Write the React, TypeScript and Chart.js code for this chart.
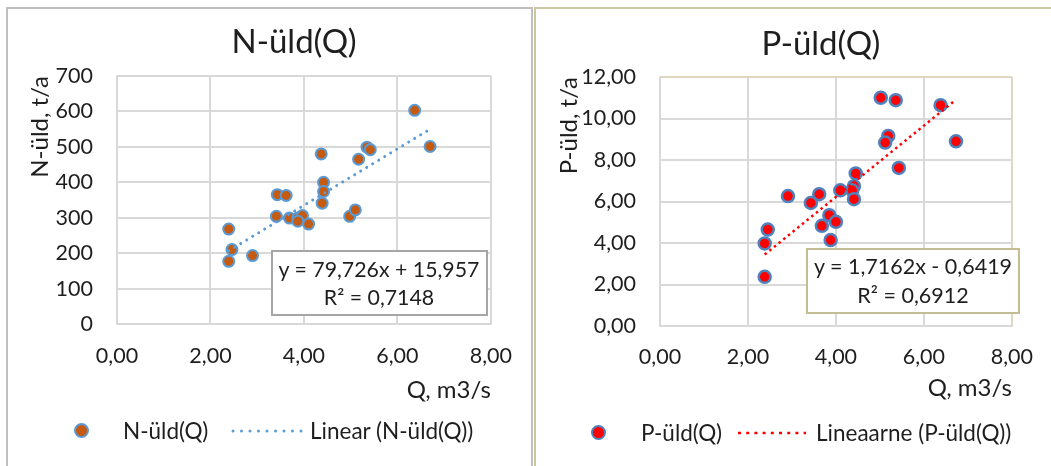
import React, { useEffect, useRef } from "react";
import { Chart, registerables } from "chart.js";

Chart.register(...registerables);

// ---------- data ----------
const qN = [2.39, 2.46, 2.39, 2.9, 3.43, 3.62, 3.41, 3.69, 3.87, 3.97, 3.87, 4.1, 4.37, 4.42, 4.42, 4.39, 4.98, 5.1, 5.17, 5.35, 5.42, 6.37, 6.7];
const nValues = [268, 210, 177, 193, 365, 363, 304, 299, 299, 306, 290, 282, 480, 400, 374, 341, 304, 322, 465, 499, 492, 603, 501];

const qP = [5.02, 5.36, 6.38, 6.73, 5.19, 5.12, 5.43, 4.45, 4.41, 4.37, 4.41, 4.1, 2.91, 3.62, 3.43, 3.85, 4.0, 3.68, 3.88, 2.45, 2.38, 2.38];
const pValues = [11.0, 10.88, 10.64, 8.9, 9.16, 8.84, 7.62, 7.35, 6.74, 6.54, 6.11, 6.54, 6.26, 6.35, 5.93, 5.34, 5.02, 4.83, 4.14, 4.65, 3.98, 2.37];

const qTicks = [0, 2, 4, 6, 8];
const nTicks = [0, 100, 200, 300, 400, 500, 600, 700];
const pTicks = [0, 2, 4, 6, 8, 10, 12];

const nTrend = { slope: 79.726, intercept: 15.957 };
const pTrend = { slope: 1.7162, intercept: -0.6419 };

const nEquation = ["y = 79,726x + 15,957", "R² = 0,7148"];
const pEquation = ["y = 1,7162x - 0,6419", "R² = 0,6912"];

const FONT = "Lato, 'Open Sans', sans-serif";
const TEXT = "#1e1e1e";
const GRID = "#d9d9d9";
const TAN = "#ddd8bf";
const TICK_SIZE = 21.5;
const AXIS_TITLE_SIZE = 24;

const comma2 = (v: number) => v.toFixed(2).replace(".", ",");

type PanelProps = {
  left: number;
  top: number;
  width: number;
  height: number;
  xs: number[];
  ys: number[];
  yTicks: number[];
  yMax: number;
  yFormat: (v: number) => string;
  yTitle: string;
  trend: { slope: number; intercept: number };
  label: string;
  trendLabel: string;
  pointFill: string;
  pointBorder: string;
  pointRadius: number;
  pointBorderWidth: number;
  trendColor: string;
  trendDash: number[];
  trendWidth: number;
  trendCap: "round" | "butt";
  yAxisWidth: number;
  xAxisHeight: number;
  pad: { left: number; right: number; top: number; bottom: number };
  yTickPad: number;
  xTickPad: number;
  yTitlePad: number;
  edgeColor: string;
};

function ScatterPanel(p: PanelProps) {
  const ref = useRef<HTMLCanvasElement | null>(null);
  useEffect(() => {
    if (!ref.current) return;
    const points = p.xs.map((x, i) => ({ x, y: p.ys[i] }));
    const xMin = Math.min(...p.xs);
    const xMax = Math.max(...p.xs);
    const trendPts = [
      { x: xMin, y: p.trend.slope * xMin + p.trend.intercept },
      { x: xMax, y: p.trend.slope * xMax + p.trend.intercept },
    ];
    const lastX = qTicks.length - 1;
    const lastY = p.yTicks.length - 1;
    const chart = new Chart(ref.current, {
      type: "scatter",
      data: {
        datasets: [
          {
            type: "line",
            label: p.trendLabel,
            data: trendPts,
            borderColor: p.trendColor,
            borderWidth: p.trendWidth,
            borderDash: p.trendDash,
            borderCapStyle: p.trendCap,
            pointRadius: 0,
            fill: false,
            showLine: true,
          } as any,
          {
            label: p.label,
            data: points,
            backgroundColor: p.pointFill,
            borderColor: p.pointBorder,
            borderWidth: p.pointBorderWidth,
            pointRadius: p.pointRadius,
            pointHoverRadius: p.pointRadius,
          },
        ],
      },
      options: {
        animation: false,
        responsive: false,
        events: [],
        layout: { padding: p.pad },
        plugins: {
          legend: { display: false },
          title: { display: false },
          tooltip: { enabled: false },
        },
        scales: {
          x: {
            type: "linear",
            min: 0,
            max: 8,
            afterBuildTicks: (s: any) => {
              s.ticks = qTicks.map((v) => ({ value: v }));
            },
            afterFit: (s: any) => {
              s.height = p.xAxisHeight;
            },
            ticks: {
              padding: p.xTickPad,
              color: TEXT,
              font: { family: FONT, size: TICK_SIZE },
              callback: (v: any) => comma2(Number(v)),
            },
            grid: {
              color: (c: any) => (c.index === lastX ? p.edgeColor : GRID),
              lineWidth: 2,
              drawTicks: false,
              tickLength: 0,
            },
            border: { color: GRID, width: 2 },
            title: {
              display: true,
              text: "Q, m3/s",
              align: "end",
              color: TEXT,
              font: { family: FONT, size: AXIS_TITLE_SIZE },
              padding: { top: 0, bottom: 0 },
            },
          },
          y: {
            type: "linear",
            min: 0,
            max: p.yMax,
            afterBuildTicks: (s: any) => {
              s.ticks = p.yTicks.map((v) => ({ value: v }));
            },
            afterFit: (s: any) => {
              s.width = p.yAxisWidth;
            },
            ticks: {
              padding: p.yTickPad,
              color: TEXT,
              font: { family: FONT, size: TICK_SIZE },
              callback: (v: any) => p.yFormat(Number(v)),
            },
            grid: {
              color: (c: any) => (c.index === lastY ? p.edgeColor : GRID),
              lineWidth: 2,
              drawTicks: false,
              tickLength: 0,
            },
            border: { color: GRID, width: 2 },
            title: {
              display: true,
              text: p.yTitle,
              align: "end",
              color: TEXT,
              font: { family: FONT, size: AXIS_TITLE_SIZE },
              padding: { top: p.yTitlePad, bottom: 0 },
            },
          },
        },
      },
    });
    return () => chart.destroy();
  }, []);
  return (
    <canvas
      ref={ref}
      width={p.width}
      height={p.height}
      style={{ position: "absolute", left: p.left, top: p.top, width: p.width, height: p.height }}
    />
  );
}

// text helper: positions a line of text by its cap-centre
function Txt(props: { x: number; cy: number; size: number; text: string; align?: "left" | "center"; color?: string }) {
  const lh = props.size * 1.2;
  const top = props.cy - props.size * 0.627;
  const style: React.CSSProperties = {
    position: "absolute",
    top,
    fontFamily: FONT,
    fontSize: props.size,
    lineHeight: `${lh}px`,
    color: props.color || TEXT,
    whiteSpace: "nowrap",
  };
  if (props.align === "center") {
    style.left = props.x - 300;
    style.width = 600;
    style.textAlign = "center";
  } else {
    style.left = props.x;
  }
  return <div style={style}>{props.text}</div>;
}

export default function App() {
  return (
    <div
      style={{
        position: "fixed",
        left: 0,
        top: 0,
        width: 1051,
        height: 466,
        overflow: "hidden",
        background: "#ffffff",
      }}
    >
      {/* panel frames */}
      <div
        style={{
          position: "absolute",
          left: 6,
          top: 7,
          width: 523,
          height: 480,
          borderTop: "2px solid #bfbfbf",
          borderLeft: "2px solid #bfbfbf",
          borderRight: "2px solid #bfbfbf",
        }}
      />
      <div
        style={{
          position: "absolute",
          left: 534,
          top: 7,
          width: 600,
          height: 480,
          borderTop: "2px solid #cdc6a2",
          borderLeft: "2px solid #cdc6a2",
        }}
      />

      {/* left chart */}
      <ScatterPanel
        left={8}
        top={9}
        width={523}
        height={457}
        xs={qN}
        ys={nValues}
        yTicks={nTicks}
        yMax={700}
        yFormat={(v) => String(v)}
        yTitle="N-üld, t/a"
        trend={nTrend}
        label="N-üld(Q)"
        trendLabel="Linear (N-üld(Q))"
        pointFill="#c55a11"
        pointBorder="#5b9bd5"
        pointRadius={5.5}
        pointBorderWidth={2}
        trendColor="#5b9bd5"
        trendDash={[0.01, 7]}
        trendWidth={3}
        trendCap="round"
        yAxisWidth={109}
        xAxisHeight={81}
        pad={{ left: 0, right: 36, top: 67, bottom: 61 }}
        yTickPad={24}
        xTickPad={19}
        yTitlePad={17.5}
        edgeColor={GRID}
      />
      <Txt x={294} cy={42} size={33} text="N-üld(Q)" align="center" />
      <div
        style={{
          position: "absolute",
          left: 271,
          top: 250,
          width: 213,
          height: 62,
          border: "2px solid #a6a6a6",
          background: "#ffffff",
        }}
      />
      <Txt x={379} cy={270} size={21.3} text={nEquation[0]} align="center" />
      <Txt x={379} cy={298} size={21.3} text={nEquation[1]} align="center" />

      {/* left legend */}
      <div
        style={{
          position: "absolute",
          left: 74,
          top: 423,
          width: 11,
          height: 11,
          borderRadius: "50%",
          background: "#c55a11",
          border: "2px solid #5b9bd5",
        }}
      />
      <Txt x={123} cy={431} size={22.5} text="N-üld(Q)" />
      <svg style={{ position: "absolute", left: 231, top: 428 }} width={74} height={6}>
        <line x1={2} y1={3} x2={72} y2={3} stroke="#5b9bd5" strokeWidth={3} strokeLinecap="round" strokeDasharray="0 8.5" />
      </svg>
      <Txt x={310} cy={431} size={22.5} text="Linear (N-üld(Q))" />

      {/* right chart */}
      <ScatterPanel
        left={536}
        top={9}
        width={515}
        height={457}
        xs={qP}
        ys={pValues}
        yTicks={pTicks}
        yMax={12}
        yFormat={comma2}
        yTitle="P-üld, t/a"
        trend={pTrend}
        label="P-üld(Q)"
        trendLabel="Lineaarne (P-üld(Q))"
        pointFill="#ff0000"
        pointBorder="#4f81bd"
        pointRadius={6}
        pointBorderWidth={2.5}
        trendColor="#ff0000"
        trendDash={[2.5, 3.5]}
        trendWidth={2.5}
        trendCap="butt"
        yAxisWidth={124}
        xAxisHeight={77}
        pad={{ left: 0, right: 27, top: 68, bottom: 63 }}
        yTickPad={24}
        xTickPad={18}
        yTitlePad={19.3}
        edgeColor={TAN}
      />
      <Txt x={821} cy={44} size={33} text="P-üld(Q)" align="center" />
      <div
        style={{
          position: "absolute",
          left: 806,
          top: 248,
          width: 210,
          height: 62,
          border: "2px solid #c4bc94",
          background: "#ffffff",
        }}
      />
      <Txt x={913} cy={267} size={21.5} text={pEquation[0]} align="center" />
      <Txt x={913} cy={296} size={21.5} text={pEquation[1]} align="center" />

      {/* right legend */}
      <div
        style={{
          position: "absolute",
          left: 591,
          top: 425,
          width: 11,
          height: 11,
          borderRadius: "50%",
          background: "#ff0000",
          border: "2.5px solid #4f81bd",
        }}
      />
      <Txt x={641} cy={433} size={22.5} text="P-üld(Q)" />
      <svg style={{ position: "absolute", left: 738, top: 430 }} width={68} height={6}>
        <line x1={0} y1={3} x2={68} y2={3} stroke="#ff0000" strokeWidth={2.5} strokeDasharray="3 5.2" />
      </svg>
      <Txt x={816} cy={433} size={22.5} text="Lineaarne (P-üld(Q))" />
    </div>
  );
}
